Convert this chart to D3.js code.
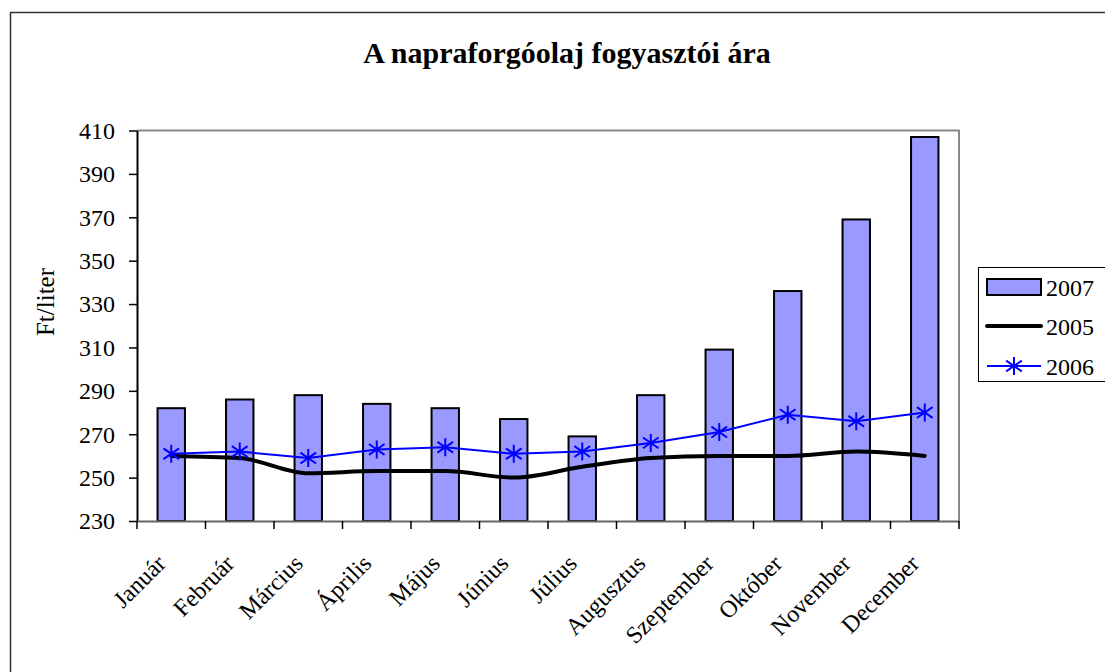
<!DOCTYPE html>
<html>
<head>
<meta charset="utf-8">
<script src="https://cdn.jsdelivr.net/npm/d3@7"></script>
<style>
  body { margin: 0; background: #fff; }
  svg text { font-family: "Liberation Serif", "Times New Roman", serif; fill: #000; }
</style>
</head>
<body>
<svg width="1105" height="672"></svg>
<script>
"use strict";
var months = ['Január','Február','Március','Április','Május','Június','Július','Augusztus','Szeptember','Október','November','December'];
var values2007 = [282, 286, 288, 284, 282, 277, 269, 288, 309, 336, 369, 407];
var values2005 = [260, 259, 252, 253, 253, 250, 255, 259, 260, 260, 262, 260];
var values2006 = [261, 262, 259, 263, 264, 261, 262, 266, 271, 279, 276, 280];
var yTicks = [230, 250, 270, 290, 310, 330, 350, 370, 390, 410];

var svg = d3.select("svg");
var plot = {left: 137, right: 959, top: 130.5, bottom: 521};
var serif = '"Liberation Serif", "Times New Roman", serif';

// outer frame
svg.append("rect")
  .attr('x', 10.5).attr('y', 12.5)
  .attr('width', 1120).attr('height', 700)
  .attr('fill', 'none').attr('stroke', '#333').attr('stroke-width', 1.5);

svg.append("text")
  .attr('x', 567).attr('y', 63)
  .attr('text-anchor', 'middle')
  .attr('font-size', 30).attr('font-weight', 'bold')
  .text('A napraforgóolaj fogyasztói ára');

var x = d3.scaleBand().domain(months).range([plot.left, plot.right]);
var y = d3.scaleLinear().domain([230, 410]).range([plot.bottom, plot.top]);

// plot area border (top & right grey)
svg.append("path")
  .attr('d', 'M' + plot.left + ',' + plot.top + 'H' + plot.right + 'V' + plot.bottom)
  .attr('fill', 'none').attr('stroke', '#888').attr('stroke-width', 2);

// bars
svg.append("g").selectAll("rect")
  .data(values2007)
  .enter()
  .append("rect")
  .attr('x', (d, i) => x(months[i]) + x.bandwidth() * 0.3)
  .attr('width', x.bandwidth() * 0.4)
  .attr('y', d => y(d))
  .attr('height', d => y(230) - y(d))
  .attr('fill', '#9999ff')
  .attr('stroke', '#000')
  .attr('stroke-width', 2);

// y axis
var yAxis = svg.append("g")
  .attr('transform', 'translate(' + plot.left + ',0)')
  .call(d3.axisLeft(y).tickValues(yTicks).tickSize(8).tickSizeOuter(0).tickPadding(14))
  .attr('font-family', serif);
yAxis.select('.domain').attr('stroke', '#000').attr('stroke-width', 2);
yAxis.selectAll('.tick line').attr('stroke', '#000').attr('stroke-width', 1.5);
yAxis.selectAll('.tick text').attr('font-size', 24).attr('font-family', serif).attr('dy', '0.33em');

// x axis
var xAxis = svg.append("g")
  .attr('transform', 'translate(0,' + plot.bottom + ')')
  .call(d3.axisBottom(x).tickSize(0).tickFormat(''));
xAxis.select('.domain').attr('stroke', '#666').attr('stroke-width', 2);
var boundaries = d3.range(months.length + 1).map(i => plot.left + i * x.step());
svg.append("g").selectAll("line")
  .data(boundaries)
  .enter()
  .append("line")
  .attr('x1', d => d).attr('x2', d => d)
  .attr('y1', plot.bottom).attr('y2', plot.bottom + 8)
  .attr('stroke', '#000').attr('stroke-width', 1.5);

svg.append("g").selectAll("text")
  .data(months)
  .enter()
  .append("text")
  .attr('text-anchor', 'end')
  .attr('font-size', 24)
  .attr('transform', d => 'translate(' + (x(d) + x.bandwidth() / 2 - 4) + ',' + (plot.bottom + 44) + ') rotate(-45)')
  .text(d => d);

svg.append("text")
  .attr('transform', 'translate(54,302) rotate(-90)')
  .attr('text-anchor', 'middle')
  .attr('font-size', 25)
  .text('Ft/liter');

// lines
var line = d3.line()
  .x((d, i) => x(months[i]) + x.bandwidth() / 2)
  .y(d => y(d))
  .curve(d3.curveMonotoneX);

svg.append("path")
  .datum(values2005)
  .attr('d', line)
  .attr('fill', 'none').attr('stroke', '#000').attr('stroke-width', 4)
  .attr('stroke-linecap', 'round');

svg.append("path")
  .datum(values2006)
  .attr('d', d3.line().x((d, i) => x(months[i]) + x.bandwidth() / 2).y(d => y(d)))
  .attr('fill', 'none').attr('stroke', '#0000ff').attr('stroke-width', 2);

function asterisk(cx, cy, r) {
  return 'M' + cx + ',' + (cy - r) + 'V' + (cy + r)
    + 'M' + (cx - r * 0.87) + ',' + (cy - r * 0.6) + 'L' + (cx + r * 0.87) + ',' + (cy + r * 0.6)
    + 'M' + (cx - r * 0.87) + ',' + (cy + r * 0.6) + 'L' + (cx + r * 0.87) + ',' + (cy - r * 0.6);
}
svg.append("g").selectAll("path")
  .data(values2006)
  .enter()
  .append("path")
  .attr('d', (d, i) => asterisk(x(months[i]) + x.bandwidth() / 2, y(d), 9))
  .attr('stroke', '#0000ff').attr('stroke-width', 2).attr('fill', 'none');

// legend
var leg = svg.append("g");
leg.append("rect")
  .attr('x', 978.5).attr('y', 267.5).attr('width', 140).attr('height', 114)
  .attr('fill', '#fff').attr('stroke', '#000').attr('stroke-width', 1);
leg.append("rect")
  .attr('x', 987).attr('y', 279).attr('width', 54).attr('height', 16)
  .attr('fill', '#9999ff').attr('stroke', '#000').attr('stroke-width', 2);
leg.append("line")
  .attr('x1', 987).attr('x2', 1041).attr('y1', 326).attr('y2', 326)
  .attr('stroke', '#000').attr('stroke-width', 4).attr('stroke-linecap', 'round');
leg.append("line")
  .attr('x1', 987).attr('x2', 1041).attr('y1', 366).attr('y2', 366)
  .attr('stroke', '#0000ff').attr('stroke-width', 2);
leg.append("path")
  .attr('d', asterisk(1014, 366, 9))
  .attr('stroke', '#0000ff').attr('stroke-width', 2).attr('fill', 'none');
[['2007', 296], ['2005', 335], ['2006', 375]].forEach(t => {
  leg.append("text").attr('x', 1046).attr('y', t[1]).attr('font-size', 24).text(t[0]);
});
</script>
</body>
</html>
